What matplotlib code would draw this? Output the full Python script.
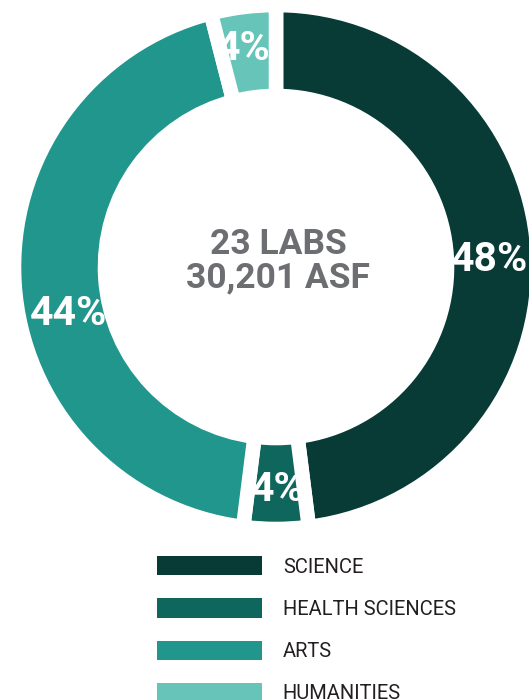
import matplotlib.pyplot as plt

# lab space split by discipline
categories = ["SCIENCE", "HEALTH SCIENCES", "ARTS", "HUMANITIES"]
shares = [48, 4, 44, 4]
colors = ["#083a36", "#0f665c", "#21968c", "#66c4b9"]
center_lines = ["23 LABS", "30,201 ASF"]

font = ["Roboto", "DejaVu Sans"]

fig = plt.figure(figsize=(5.29, 7.0), dpi=100)
ax = fig.add_axes([0, 0, 1, 1])

# donut, clockwise from the top, white gaps via thick edges
wedges, texts, pcts = ax.pie(
    shares, colors=colors, startangle=90, counterclock=False,
    center=(276, 433), radius=262, frame=True,
    wedgeprops=dict(width=91, edgecolor="white", linewidth=10.5),
    autopct="%d%%", pctdistance=0.82,
    textprops=dict(color="white", fontsize=29.5, fontweight="bold", family=font))
ax.set_xlim(0, 529)
ax.set_ylim(0, 700)
ax.set_aspect("equal")
ax.axis("off")

# nudge labels to where the reference puts them
x, y = pcts[0].get_position()
pcts[0].set_position((x - 1, y - 6))
x, y = pcts[1].get_position()
pcts[1].set_position((x + 2, y - 8))
x, y = pcts[2].get_position()
pcts[2].set_position((x + 7, y - 34))
x, y = pcts[3].get_position()
pcts[3].set_position((x - 5, y + 5))

ax.text(278, 700 - 244, center_lines[0], ha="center", va="center",
        fontsize=25.5, fontweight="bold", color="#6d6e71", family=font)
ax.text(278, 700 - 278, center_lines[1], ha="center", va="center",
        fontsize=25.5, fontweight="bold", color="#6d6e71", family=font)

leg = ax.legend(wedges, categories, loc="upper left",
                bbox_to_anchor=(157 / 529, 1 - 556 / 700),
                frameon=False, handlelength=5.2, handleheight=1.1,
                handletextpad=1.05, labelspacing=1.08, borderpad=0,
                borderaxespad=0, prop=dict(family=font, size=14.5))
for t in leg.get_texts():
    t.set_color("#231f20")
for h in leg.legend_handles:
    h.set_edgecolor("none")
    h.set_linewidth(0)

fig.savefig("out.png", dpi=100)
